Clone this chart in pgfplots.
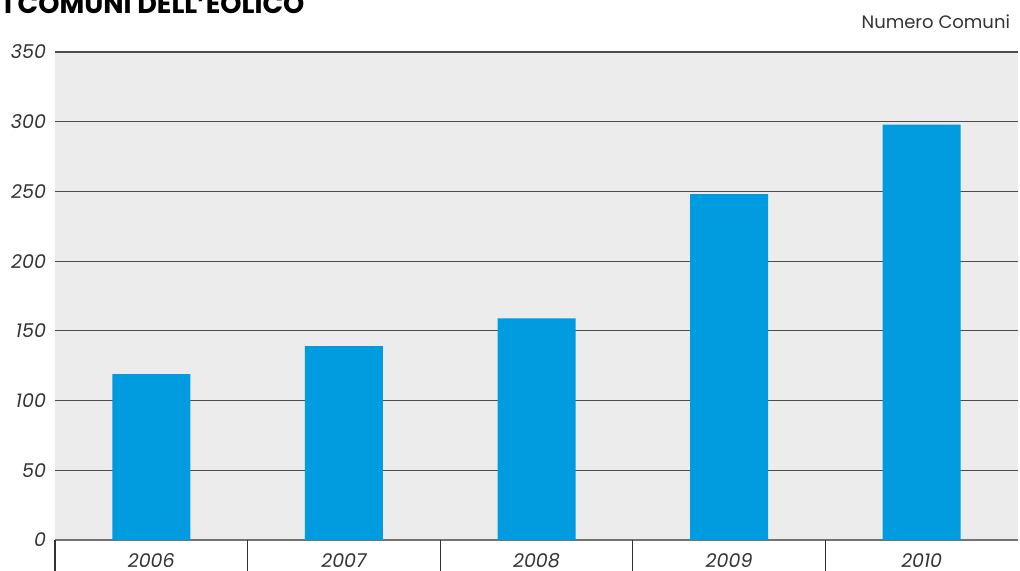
\documentclass[border=0pt]{standalone}
\usepackage{pgfplots}
\pgfplotsset{compat=1.18}
\usepackage{fontspec}
\setmainfont{Poppins}
\definecolor{barblue}{HTML}{009CDF}
\definecolor{bggray}{HTML}{EBECEB}
\definecolor{txtgray}{HTML}{333333}
\begin{document}
\begin{tikzpicture}
\useasboundingbox (0,0) rectangle (510pt,285pt);
\begin{axis}[
  at={(27.5pt,15pt)}, anchor=south west,
  scale only axis, width=481.5pt, height=244pt,
  xmin=-0.5, xmax=4.5, ymin=0, ymax=350,
  ytick={0,50,...,350},
  xtick={0,1,2,3,4},
  xticklabels={2006,2007,2008,2009,2010},
  tick pos=left,
  extra x ticks={-0.5,0.5,1.5,2.5,3.5},
  extra x tick labels={},
  extra x tick style={tick align=outside, major tick length=20pt, tick style={draw=txtgray, line width=0.6pt}},
  major tick length=0pt,
  axis line style={draw=none},
  axis x line*=bottom,
  x axis line style={draw=black!55, line width=1pt},
  axis background/.style={fill=bggray},
  ymajorgrids, grid style={draw=black!70, line width=0.6pt},
  tick label style={font=\fontsize{9.5}{11}\selectfont\itshape, text=txtgray},
  /pgf/number format/assume math mode=true,
  yticklabel style={xshift=-1pt},
  xticklabel style={anchor=north, text height=1.6ex, text depth=0.3ex, yshift=-1.5pt},
  clip=false,
]
\addplot[ybar, bar width=39pt, fill=barblue, draw=none] coordinates {(0,119) (1,139) (2,159) (3,248) (4,298)};
\end{axis}
\node[anchor=base west, font=\fontsize{13.5}{15}\selectfont\bfseries, text=black] at (-1.5pt,278.5pt) {I COMUNI DELL'EOLICO};
\node[anchor=base east, font=\fontsize{9}{11}\selectfont, text=txtgray] at (508.5pt,271pt) {Numero Comuni};
\end{tikzpicture}
\end{document}
